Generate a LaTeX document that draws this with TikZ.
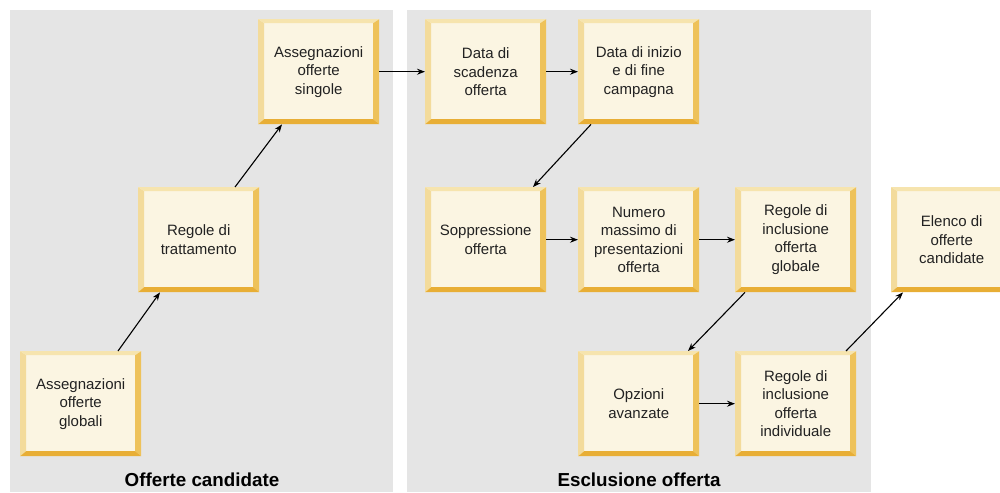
\documentclass[tikz,border=0pt]{standalone}
\usepackage{fontspec}
\setmainfont{Liberation Sans}
\usetikzlibrary{arrows.meta}
\definecolor{panel}{HTML}{E5E5E5}
\definecolor{cream}{HTML}{FBF5E2}
\definecolor{bvl}{HTML}{F3DB9B}
\definecolor{bvt}{HTML}{F6E4AE}
\definecolor{bvr}{HTML}{EEC25A}
\definecolor{bvb}{HTML}{E8AE35}
\definecolor{txt}{HTML}{222222}
\tikzset{
  bx/.style={anchor=north west, minimum width=121pt, minimum height=105pt, inner sep=0pt,
    fill=cream, align=center, text=txt, font=\fontsize{15}{18.5}\selectfont,
    path picture={
      \coordinate (pnw) at (path picture bounding box.north west);
      \coordinate (pse) at (path picture bounding box.south east);
      \coordinate (pne) at (path picture bounding box.north east);
      \coordinate (psw) at (path picture bounding box.south west);
      \fill[bvl] (pnw) -- (psw) -- ([xshift=6pt,yshift=5pt]psw) -- ([xshift=6pt,yshift=-4pt]pnw) -- cycle;
      \fill[bvt] (pnw) -- (pne) -- ([xshift=-6pt,yshift=-4pt]pne) -- ([xshift=6pt,yshift=-4pt]pnw) -- cycle;
      \fill[bvr] (pne) -- (pse) -- ([xshift=-6pt,yshift=5pt]pse) -- ([xshift=-6pt,yshift=-4pt]pne) -- cycle;
      \fill[bvb] (psw) -- (pse) -- ([xshift=-6pt,yshift=5pt]pse) -- ([xshift=6pt,yshift=5pt]psw) -- cycle;
    }},
  arr/.style={draw=black, line width=1.1pt, -{Stealth[length=8pt,width=6pt]}},
  ttl/.style={font=\fontsize{18.8}{22}\selectfont\bfseries, text=black, inner sep=0pt}
}
\begin{document}
\begin{tikzpicture}[x=1pt,y=-1pt]
\useasboundingbox (0,0) rectangle (1000,492);
\clip (0,0) rectangle (1000,492);
\fill[panel] (10,10) rectangle (393,492);
\fill[panel] (407,10) rectangle (871,492);

\node[bx] (a1) at (20,351) {Assegnazioni\\offerte\\globali};
\node[bx] (a2) at (138,187) {Regole di\\trattamento};
\node[bx] (a3) at (258,19) {Assegnazioni\\offerte\\singole};
\node[bx] (b1) at (425,19) {Data di\\scadenza\\offerta};
\node[bx] (b2) at (578,19) {Data di inizio\\e di fine\\campagna};
\node[bx] (b3) at (425,187) {Soppressione\\offerta};
\node[bx] (b4) at (578,187) {Numero\\massimo di\\presentazioni\\offerta};
\node[bx] (b5) at (735,187) {Regole di\\inclusione\\offerta\\globale};
\node[bx] (b6) at (578,351) {Opzioni\\avanzate};
\node[bx] (b7) at (735,351) {Regole di\\inclusione\\offerta\\individuale};
\node[bx] (c) at (891,187) {Elenco di\\offerte\\candidate};

\node[ttl] (t1) at (202,480) {Offerte candidate};
\node[ttl] (t2) at (639,480) {Esclusione offerta};

\draw[arr] ([xshift=98pt]a1.north west) -- ([xshift=22pt]a2.south west);
\draw[arr] ([xshift=97pt]a2.north west) -- ([xshift=24pt]a3.south west);
\draw[arr] (a3.east) -- (b1.west);
\draw[arr] (b1.east) -- (b2.west);
\draw[arr] ([xshift=13pt]b2.south west) -- ([xshift=108pt]b3.north west);
\draw[arr] (b3.east) -- (b4.west);
\draw[arr] (b4.east) -- (b5.west);
\draw[arr] ([xshift=10pt]b5.south west) -- ([xshift=110pt]b6.north west);
\draw[arr] (b6.east) -- (b7.west);
\draw[arr] ([xshift=111pt]b7.north west) -- ([xshift=12pt]c.south west);
\end{tikzpicture}
\end{document}
